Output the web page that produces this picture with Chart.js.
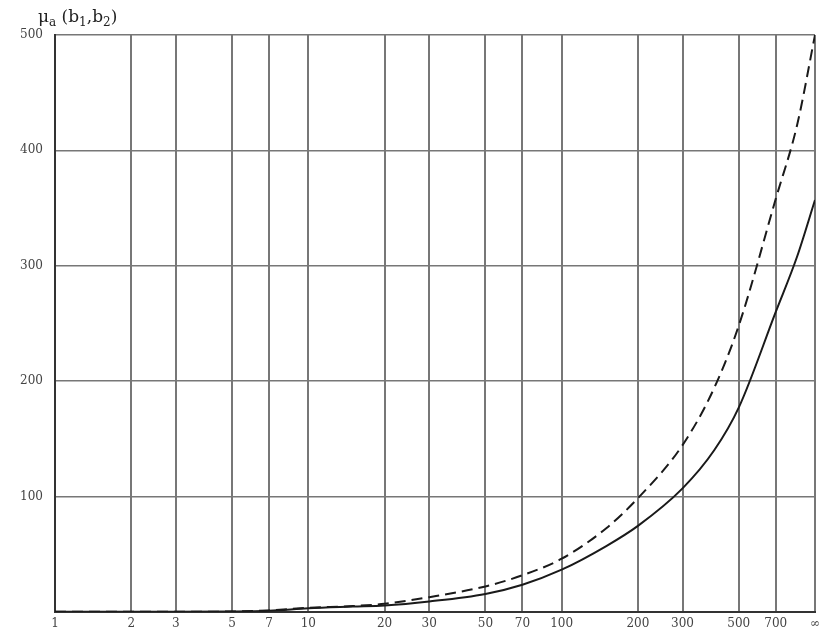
<!DOCTYPE html>
<html lang="en">
<head>
  <meta charset="UTF-8">
  <title>mu_a chart</title>
  <script src="https://cdn.jsdelivr.net/npm/chart.js@4.4.0/dist/chart.umd.min.js"></script>
  <style>
    html, body { margin: 0; padding: 0; background: #fff; overflow: hidden; }
  </style>
</head>
<body>
  <canvas id="chart" width="825" height="631"></canvas>
  <script>

// x positions (log axis), the last one is the "infinity" column
const xValues = [1, 2, 3, 5, 7, 10, 15, 20, 30, 50, 70, 100, 150, 200, 300, 400, 500, 700, 850, 1000];
const solidValues = [0, 0, 0, 0.3, 1, 3, 4.5, 5.5, 9, 15.5, 23.5, 36.5, 57, 74.5, 107, 140, 177, 260, 308, 357];
const dashedValues = [0, 0, 0, 0.3, 1.2, 3.5, 5, 7, 12.7, 22, 31.7, 46, 72.5, 98.5, 144.5, 194, 248, 358, 422, 500];

const xTicks = [1, 2, 3, 5, 7, 10, 20, 30, 50, 70, 100, 200, 300, 500, 700, 1000];
const xTickLabels = ['1', '2', '3', '5', '7', '10', '20', '30', '50', '70', '100', '200', '300', '500', '700', '\u221E'];
const yTicks = [0, 100, 200, 300, 400, 500];
// axis title pieces: [text, isSubscript]
const titleParts = [['\u03BC', false], ['a', true], [' (b', false], ['1', true], [',b', false], ['2', true], [')', false]];

const toPoints = ys => xValues.map((x, i) => ({ x: x, y: ys[i] }));

const titlePlugin = {
  id: 'cornerTitle',
  afterDraw(chart) {
    const ctx = chart.ctx;
    let x = 38;
    const base = 22;
    ctx.save();
    ctx.fillStyle = '#222';
    ctx.textBaseline = 'alphabetic';
    titleParts.forEach(([txt, sub]) => {
      ctx.font = sub ? '12px "DejaVu Serif"' : '17px "DejaVu Serif"';
      ctx.fillText(txt, x, sub ? base + 4 : base);
      x += ctx.measureText(txt).width;
    });
    ctx.restore();
  }
};

const ctx = document.getElementById('chart').getContext('2d');
const myChart = new Chart(ctx, {
  type: 'line',
  data: {
    datasets: [{
      label: 'solid',
      data: toPoints(solidValues),
      borderColor: '#1a1a1a',
      borderWidth: 2,
      pointRadius: 0,
      fill: false,
      cubicInterpolationMode: 'monotone'
    }, {
      label: 'dashed',
      data: toPoints(dashedValues),
      borderColor: '#1a1a1a',
      borderWidth: 2,
      borderDash: [11, 6],
      pointRadius: 0,
      fill: false,
      cubicInterpolationMode: 'monotone'
    }]
  },
  options: {
    responsive: false,
    animation: false,
    layout: { padding: { top: 35, right: 7, left: 0, bottom: 0 } },
    plugins: {
      legend: { display: false },
      tooltip: { enabled: false }
    },
    scales: {
      x: {
        type: 'logarithmic',
        min: 1,
        max: 1000,
        afterBuildTicks: scale => { scale.ticks = xTicks.map(v => ({ value: v })); },
        afterFit: scale => { scale.height = 17; },
        grid: { color: '#777', lineWidth: 2, drawTicks: false },
        border: { color: '#333', width: 2 },
        ticks: {
          autoSkip: false,
          maxRotation: 0,
          padding: 5,
          color: '#444',
          font: { family: 'DejaVu Serif', size: 12 },
          callback: (value) => {
            const i = xTicks.indexOf(value);
            return i >= 0 ? xTickLabels[i] : '';
          }
        }
      },
      y: {
        min: 0,
        max: 500,
        afterBuildTicks: scale => { scale.ticks = yTicks.map(v => ({ value: v })); },
        afterFit: scale => { scale.width = 55; },
        grid: { color: '#777', lineWidth: 1.5, drawTicks: false },
        border: { color: '#333', width: 2 },
        ticks: {
          padding: 12,
          color: '#444',
          font: { family: 'DejaVu Serif', size: 12 },
          callback: value => value === 0 ? '' : String(value)
        }
      }
    }
  },
  plugins: [titlePlugin]
});
  </script>
</body>
</html>
